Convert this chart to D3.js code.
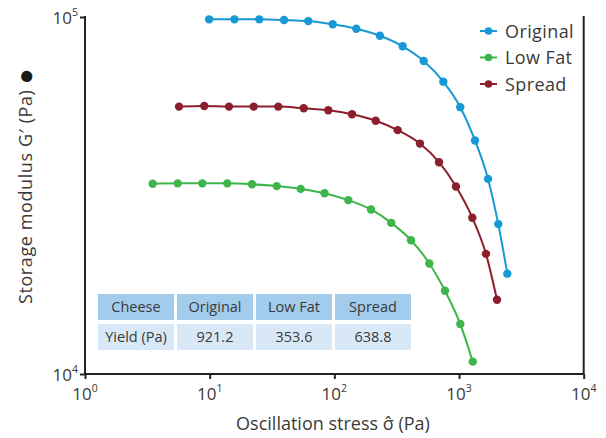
<!DOCTYPE html>
<html><head><meta charset="utf-8">
<script src="https://cdn.jsdelivr.net/npm/d3@7"></script>
<style>body{margin:0;background:#fff;} text{font-family:"Open Sans","Noto Sans",sans-serif;}</style>
</head><body>
<svg id="chart" width="606" height="438"></svg>
<script>
const seriesNames = ["Original", "Low Fat", "Spread"];
const seriesColors = ["#1799d6", "#3db54a", "#8c1f2e"];
const originalX = [9.9, 15.8, 25.0, 39.5, 61.8, 97, 150, 232, 353, 521, 748, 1023, 1343, 1708, 2065, 2439];
const originalY = [98500, 98500, 98500, 98100, 97400, 95400, 92700, 88600, 82800, 75300, 65900, 55900, 45100, 35200, 26300, 19100];
const lowFatX = [3.49, 5.54, 8.73, 13.85, 21.85, 34.5, 53.7, 83.4, 129.4, 196.8, 286, 412, 578, 772, 1024, 1288];
const lowFatY = [34100, 34200, 34200, 34200, 34000, 33600, 33000, 32100, 30700, 28900, 26500, 23700, 20400, 17100, 13800, 10830];
const spreadX = [5.68, 9.05, 14.29, 22.55, 35.5, 56.8, 89.4, 138.6, 214.7, 322, 486, 691, 945, 1278, 1645, 2017];
const spreadY = [56100, 56300, 56100, 56100, 56100, 55500, 54800, 53400, 51200, 48200, 44200, 39200, 33500, 27400, 21700, 16150];
const xTickExps = [0, 1, 2, 3, 4];
const yTickExps = [4, 5];
const tableHeader = ["Cheese", "Original", "Low Fat", "Spread"];
const tableRow = ["Yield (Pa)", "921.2", "353.6", "638.8"];
const xTitle = "Oscillation stress σ\u0302 (Pa)";
const yTitleMain = "Storage modulus G\u2032 (Pa) ";
const yTitleMark = "\u25CF";

const svg = d3.select("#chart");
const L = 85, R = 583.7, T = 17, B = 374;
const x = d3.scaleLog().domain([1, 1e4]).range([L, R]);
const y = d3.scaleLog().domain([1e4, 1e5]).range([B, T]);
const axisColor = "#222";
const textColor = "#3a3a3a";

const series = [
  {name: seriesNames[0], color: seriesColors[0], xs: originalX, ys: originalY},
  {name: seriesNames[1], color: seriesColors[1], xs: lowFatX, ys: lowFatY},
  {name: seriesNames[2], color: seriesColors[2], xs: spreadX, ys: spreadY}
];

// table
const colW = 76, gap = 3, rowH = 26, rowGap = 4, tx0 = 98, ty0 = 294;
[tableHeader, tableRow].forEach((row, ri) => {
  row.forEach((cell, ci) => {
    const cx = tx0 + ci * (colW + gap), cy = ty0 + ri * (rowH + rowGap);
    svg.append("rect").attr("x", cx).attr("y", cy).attr("width", colW).attr("height", rowH)
      .attr("fill", ri === 0 ? "#a2cbec" : "#d9e8f6");
    svg.append("text").attr("x", cx + colW / 2).attr("y", cy + rowH / 2 + 5)
      .attr("text-anchor", "middle").attr("font-size", 14.5).attr("fill", textColor).text(cell);
  });
});

// axes
const xAxis = d3.axisBottom(x).tickValues(xTickExps.map(e => Math.pow(10, e))).tickSize(5).tickFormat("");
const gx = svg.append("g").attr("transform", `translate(0,${B})`).call(xAxis);
gx.select(".domain").attr("stroke", axisColor).attr("stroke-width", 2).attr("d", `M${L},0H${R}`);
gx.selectAll(".tick line").attr("stroke", axisColor).attr("stroke-width", 2);

const yAxis = d3.axisLeft(y).tickValues(yTickExps.map(e => Math.pow(10, e))).tickSize(5).tickFormat("");
const gy = svg.append("g").attr("transform", `translate(${L},0)`).call(yAxis);
gy.select(".domain").attr("stroke", axisColor).attr("stroke-width", 2).attr("d", `M0,${T - 1}V${B}`);
gy.selectAll(".tick line").attr("stroke", axisColor).attr("stroke-width", 2);

svg.append("line").attr("x1", R).attr("x2", R).attr("y1", T - 1).attr("y2", B)
  .attr("stroke", axisColor).attr("stroke-width", 2);

function powLabel(sel, e) {
  sel.append("tspan").text("10");
  sel.append("tspan").attr("font-size", 10.5).attr("dy", -8).text(e);
}
xTickExps.forEach(e => {
  const t = svg.append("text").attr("x", x(Math.pow(10, e))).attr("y", B + 26)
    .attr("text-anchor", "middle").attr("font-size", 17).attr("fill", textColor);
  powLabel(t, e);
});
yTickExps.forEach(e => {
  const t = svg.append("text").attr("x", L - 7).attr("y", y(Math.pow(10, e)) + 6.5)
    .attr("text-anchor", "end").attr("font-size", 17).attr("fill", textColor);
  powLabel(t, e);
});

svg.append("text").attr("x", 333).attr("y", 430).attr("text-anchor", "middle")
  .attr("font-size", 18).attr("fill", textColor).text(xTitle);
const yt = svg.append("text").attr("transform", "translate(32,186) rotate(-90)").attr("text-anchor", "middle")
  .attr("font-size", 18).attr("letter-spacing", 0.6).attr("fill", textColor);
yt.append("tspan").text(yTitleMain);
yt.append("tspan").attr("font-size", 26).attr("fill", "#1a1a1a").attr("dy", 2).text(yTitleMark);

// lines and points
const line = d3.line().x(d => x(d[0])).y(d => y(d[1])).curve(d3.curveMonotoneX);
series.forEach(s => {
  const pts = s.xs.map((v, i) => [v, s.ys[i]]);
  svg.append("path").attr("d", line(pts)).attr("fill", "none").attr("stroke", s.color).attr("stroke-width", 2);
  svg.selectAll(null).data(pts).enter().append("circle")
    .attr("cx", d => x(d[0])).attr("cy", d => y(d[1])).attr("r", 4.2).attr("fill", s.color);
});

// legend
series.forEach((s, i) => {
  const ly = 31 + i * 26.5;
  svg.append("line").attr("x1", 480).attr("x2", 497).attr("y1", ly).attr("y2", ly)
    .attr("stroke", s.color).attr("stroke-width", 2);
  svg.append("circle").attr("cx", 488.5).attr("cy", ly).attr("r", 3.8).attr("fill", s.color);
  svg.append("text").attr("x", 505).attr("y", ly + 6.5).attr("font-size", 18).attr("letter-spacing", 0.4)
    .attr("fill", textColor).text(s.name);
});
</script>
</body></html>
